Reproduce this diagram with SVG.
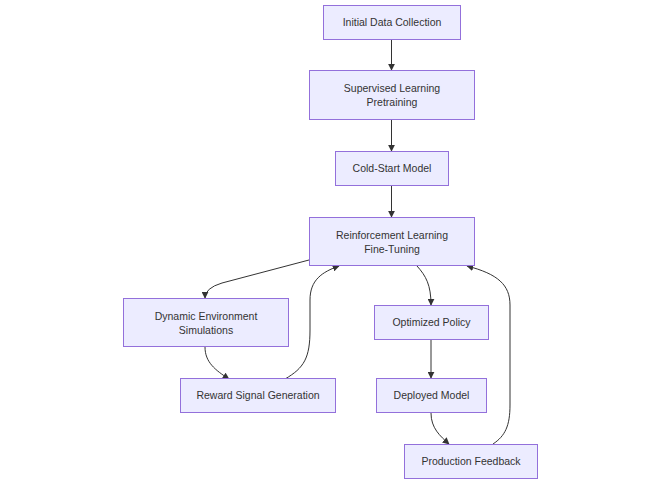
<svg xmlns="http://www.w3.org/2000/svg" width="661" height="484" viewBox="0 0 661 484">
<defs>
<marker id="arr" viewBox="0 0 10 10" refX="9" refY="5" markerWidth="7" markerHeight="7" markerUnits="userSpaceOnUse" orient="auto">
<path d="M0,0 L10,5 L0,10 z" fill="#333"/>
</marker>
<style>
.node rect{fill:#ECECFF;stroke:#9370DB;stroke-width:1}
.node text{font-family:"Liberation Sans",Arial,sans-serif;font-size:10.5px;fill:#333;text-anchor:middle}
.edges path{fill:none;stroke:#333;stroke-width:1;marker-end:url(#arr)}
</style>
</defs>
<rect width="661" height="484" fill="#fff"/>
<g class="edges">
<path d="M391.5,39 L391.5,70"/>
<path d="M391.5,120 L391.5,151"/>
<path d="M391.5,185 L391.5,217"/>
<path d="M309,260 L222,283 Q205,288 205,298"/>
<path d="M205,347 C205,362 215,370 229,379"/>
<path d="M285,379 C304,368 310,358 310,330 L310,300 C310,280 322,272 339,266"/>
<path d="M417,266 C426,276 431,285 431,305"/>
<path d="M431,340 L431,378"/>
<path d="M431,413 C431,428 440,436 449,444"/>
<path d="M493,444 C505,436 510,426 510,405 L510,305 C510,285 498,274 467,266"/>
</g>
<g id="n1" class="node"><rect x="323.5" y="5.5" width="137" height="34"/><text x="392" y="26">Initial Data Collection</text></g>
<g id="n2" class="node"><rect x="309.5" y="70.5" width="165" height="49"/><text x="392" y="91.5">Supervised Learning</text><text x="392" y="105.5">Pretraining</text></g>
<g id="n3" class="node"><rect x="335.5" y="151.5" width="113" height="34"/><text x="392" y="172">Cold-Start Model</text></g>
<g id="n4" class="node"><rect x="309.5" y="217.5" width="165" height="48"/><text x="392" y="238.5">Reinforcement Learning</text><text x="392" y="252.5">Fine-Tuning</text></g>
<g id="n5" class="node"><rect x="123.5" y="298.5" width="165" height="48"/><text x="206" y="319.5">Dynamic Environment</text><text x="206" y="333.5">Simulations</text></g>
<g id="n6" class="node"><rect x="374.5" y="305.5" width="114" height="34"/><text x="431.5" y="326">Optimized Policy</text></g>
<g id="n7" class="node"><rect x="180.5" y="378.5" width="155" height="34"/><text x="258" y="399">Reward Signal Generation</text></g>
<g id="n8" class="node"><rect x="376.5" y="378.5" width="110" height="34"/><text x="431.5" y="399">Deployed Model</text></g>
<g id="n9" class="node"><rect x="404.5" y="444.5" width="133" height="34"/><text x="471" y="465">Production Feedback</text></g>
</svg>
